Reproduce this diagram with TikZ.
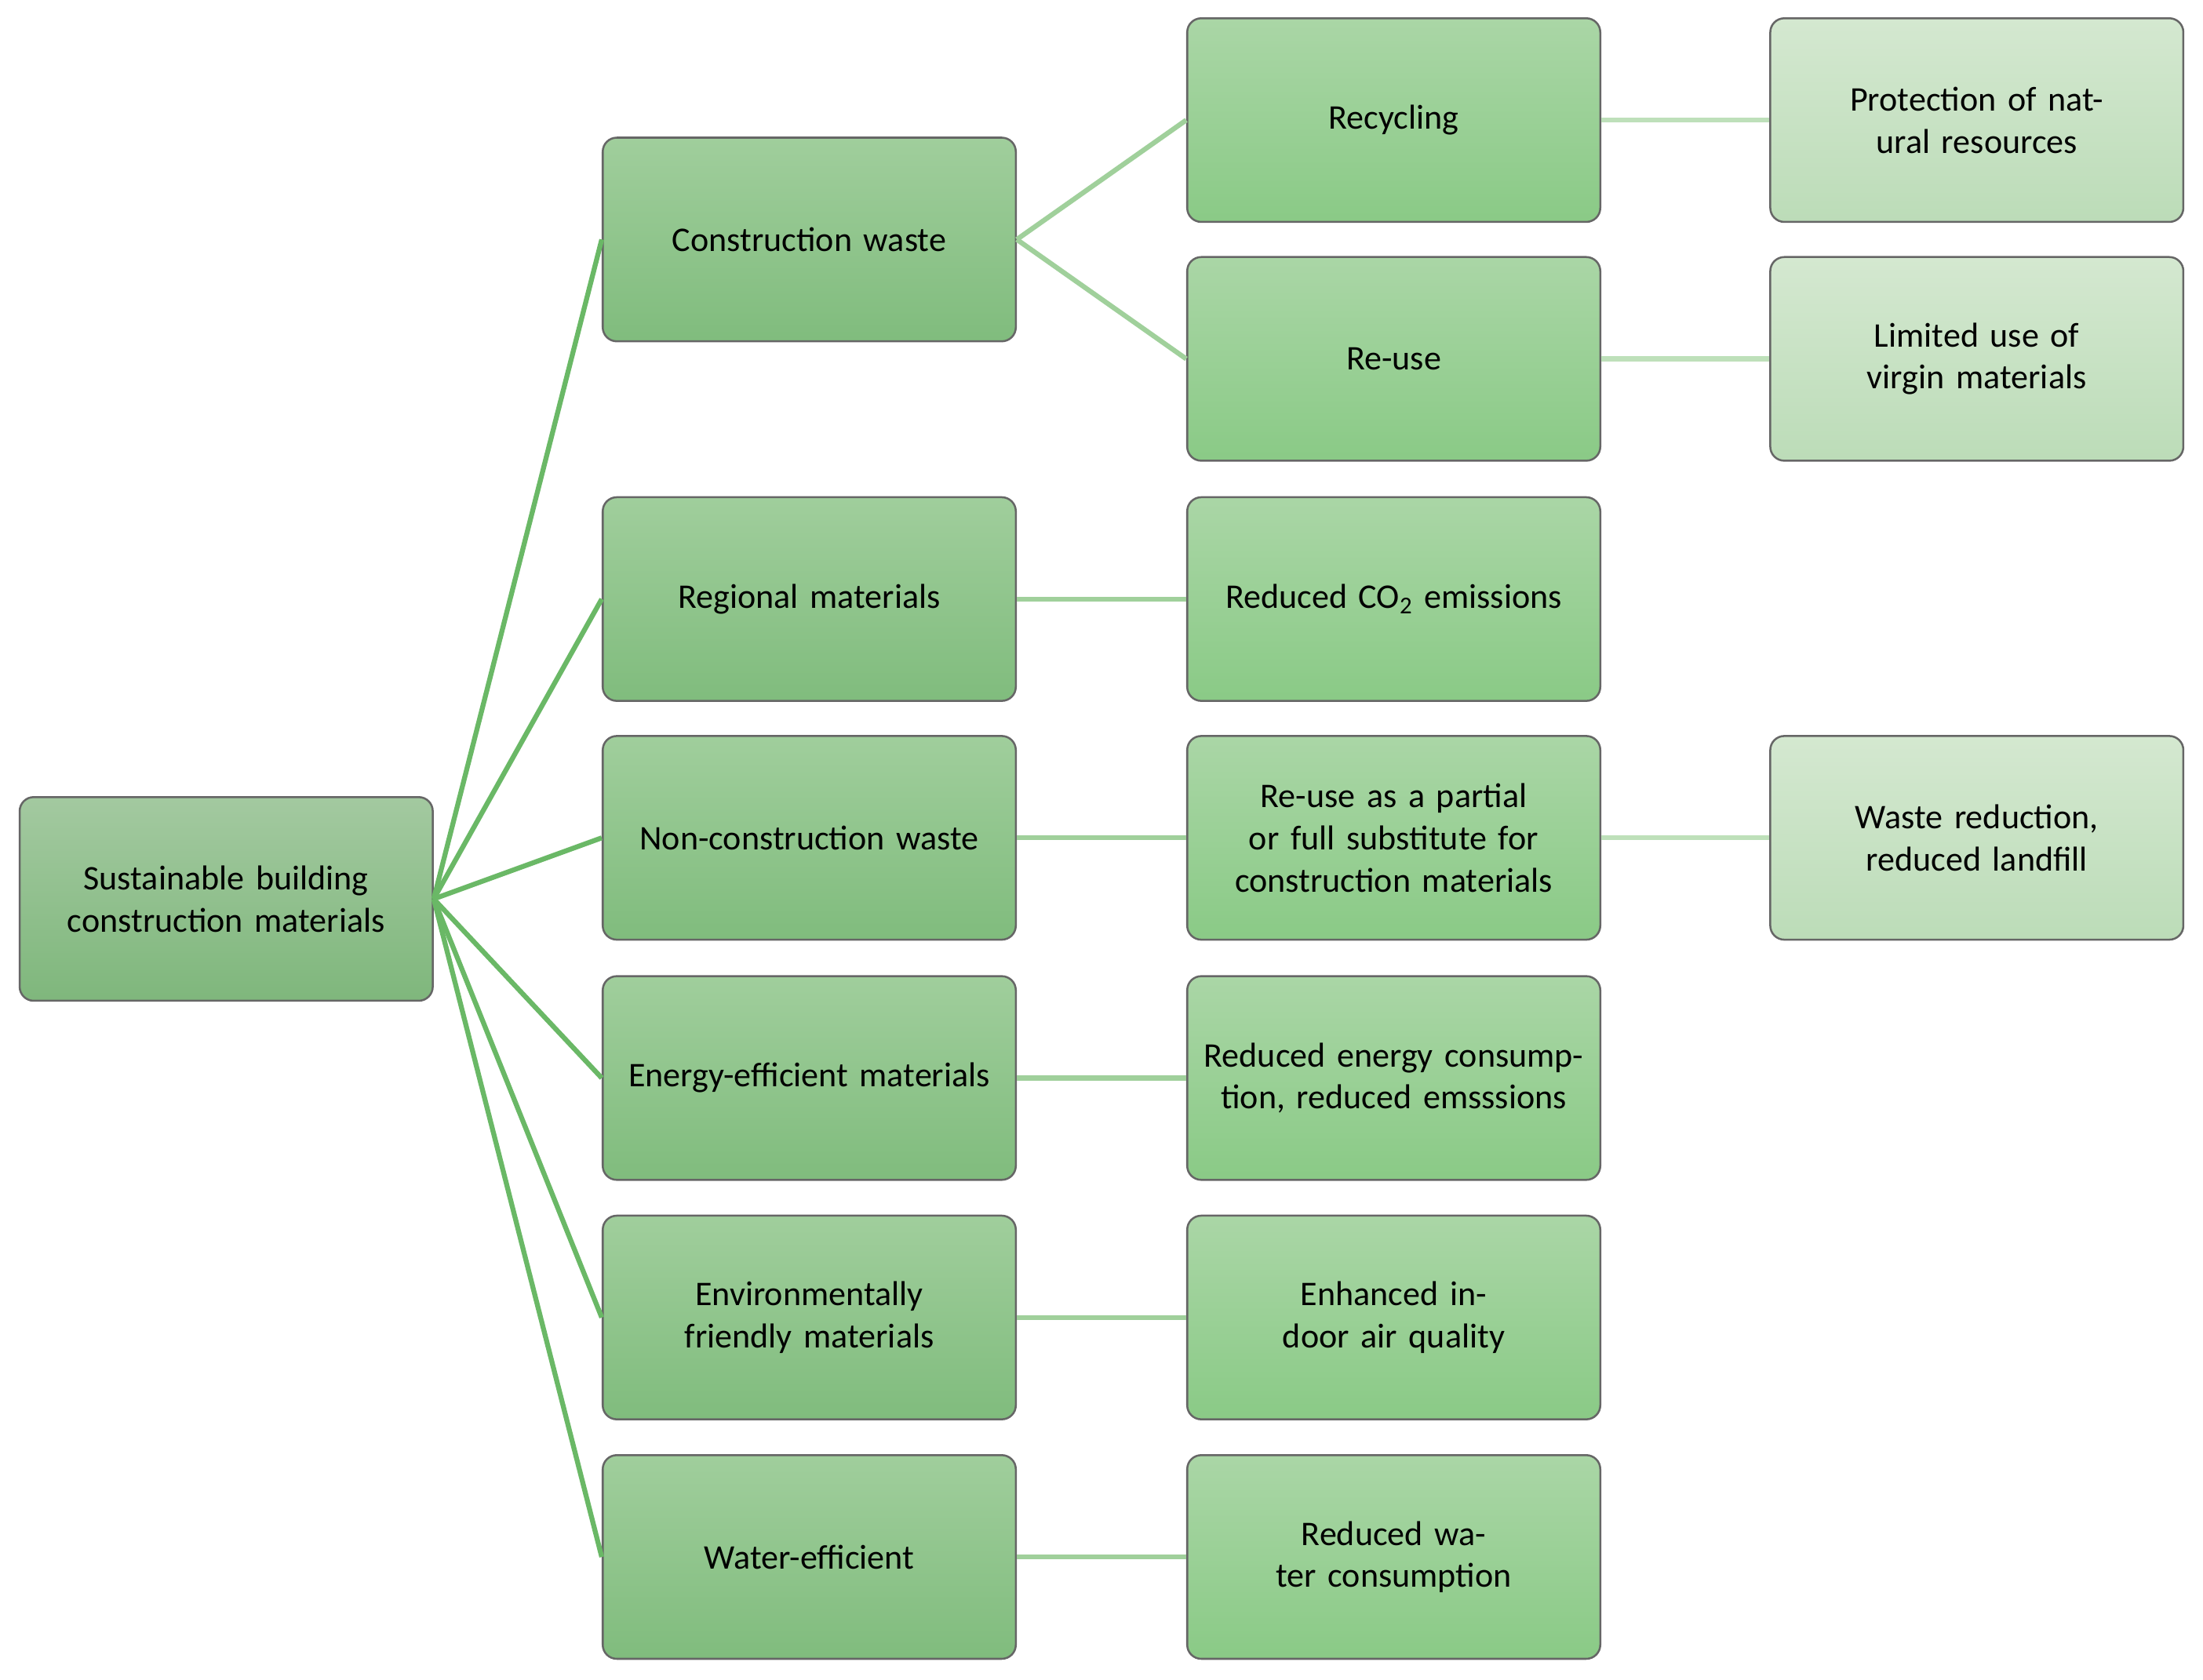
\documentclass[tikz,border=0pt]{standalone}
\usepackage{fontspec}
\setmainfont{Carlito}
\begin{document}
\begin{tikzpicture}[x=0.03cm,y=-0.03cm,
 box/.style={draw=black!60,line width=1.2pt,rounded corners=0.3cm,minimum width=8.82cm,minimum height=4.35cm,text width=8.4cm,align=center,font=\fontsize{21}{25.6}\selectfont},
 r/.style={box,top color=green!30!black!5!gray!0!{rgb,255:red,163;green,201;blue,160},bottom color={rgb,255:red,127;green,183;blue,124}},
 c2/.style={box,top color={rgb,255:red,160;green,206;blue,156},bottom color={rgb,255:red,128;green,188;blue,125}},
 c3/.style={box,top color={rgb,255:red,170;green,214;blue,166},bottom color={rgb,255:red,138;green,202;blue,134}},
 c4/.style={box,top color={rgb,255:red,212;green,232;blue,208},bottom color={rgb,255:red,188;green,220;blue,184}},
 dl/.style={draw={rgb,255:red,106;green,184;blue,102},line width=3pt},
 ll/.style={draw={rgb,255:red,160;green,208;blue,155},line width=3pt}]
\useasboundingbox (0,0) rectangle (1568,1196);
\node[box,top color={rgb,255:red,163;green,201;blue,160},bottom color={rgb,255:red,127;green,183;blue,124}] (root) at (161,640) {Sustainable building construction materials};
\node[c2] (a1) at (576,170.5) {Construction waste};
\node[c2] (a2) at (576,426.5) {Regional materials};
\node[c2] (a3) at (576,596.5) {Non-construction waste};
\node[c2] (a4) at (576,767.5) {Energy-efficient materials};
\node[c2] (a5) at (576,938) {Environmentally friendly materials};
\node[c2] (a6) at (576,1108.5) {Water-efficient};
\node[c3] (b1) at (992,85.5) {Recycling};
\node[c3] (b2) at (992,255.5) {Re-use};
\node[c3] (b3) at (992,426.5) {Reduced CO\textsubscript{2} emissions};
\node[c3] (b4) at (992,596.5) {Re-use as a partial or full substitute for construction materials};
\node[c3] (b5) at (992,767.5) {Reduced energy consumption, reduced emsssions};
\node[c3] (b6) at (992,938) {Enhanced indoor air quality};
\node[c3] (b7) at (992,1108.5) {Reduced water consumption};
\node[c4] (d1) at (1407,85.5) {Protection of natural resources};
\node[c4] (d2) at (1407,255.5) {Limited use of virgin materials};
\node[c4] (d3) at (1407,596.5) {Waste reduction, reduced landfill};
\foreach \n in {a1,a2,a3,a4,a5,a6} \draw[dl] (root.east) -- (\n.west);
\draw[ll] (a1.east) -- (b1.west);
\draw[ll] (a1.east) -- (b2.west);
\draw[ll] (a2) -- (b3);
\draw[ll] (a3) -- (b4);
\draw[ll] (a4) -- (b5);
\draw[ll] (a5) -- (b6);
\draw[ll] (a6) -- (b7);
\draw[ll,draw={rgb,255:red,190;green,224;blue,186}] (b1) -- (d1);
\draw[ll,draw={rgb,255:red,190;green,224;blue,186}] (b2) -- (d2);
\draw[ll,draw={rgb,255:red,190;green,224;blue,186}] (b4) -- (d3);
\end{tikzpicture}
\end{document}
